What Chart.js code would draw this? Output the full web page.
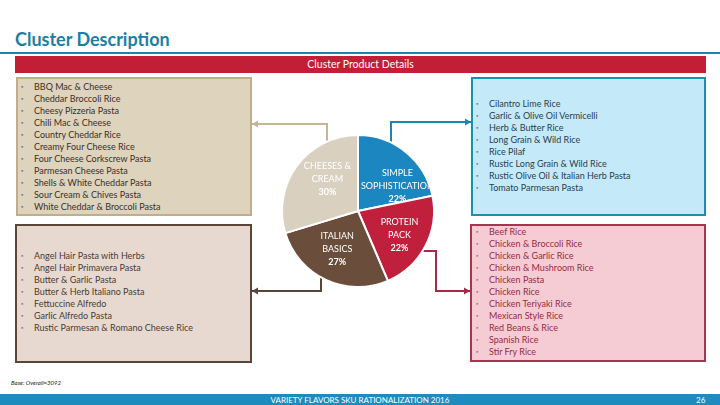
<!DOCTYPE html>
<html>
<head>
<meta charset="utf-8">
<script src="https://cdn.jsdelivr.net/npm/chart.js@4.4.1/dist/chart.umd.min.js"></script>
<style>
  html, body { margin: 0; padding: 0; background: #fff; }
  #slide { position: relative; width: 720px; height: 405px; overflow: hidden; font-family: Lato, "Open Sans", sans-serif; }
  #slide > * { position: absolute; }
  #title { left: 15px; top: 28px; font-size: 18px; font-weight: bold; color: #1b7fa3; }
  #rule { left: 0; top: 52px; width: 720px; height: 2px; background: #1b84a8; }
  #header { left: 15px; top: 56px; width: 691px; height: 17px; background: #c21e36; color: #fff;
            font-size: 10.5px; line-height: 17px; text-align: center; }
  .box { box-sizing: border-box; border: 2px solid; }
  .list { margin: 0; padding: 0; list-style: none; font-size: 9px; line-height: 12px; white-space: nowrap; }
  .list li { position: relative; padding-left: 13px; }
  .list li::before { content: "\25AA"; position: absolute; left: 0; font-size: 6px; opacity: 0.6; }
  #base { left: 11px; top: 379px; font-size: 6px; font-style: italic; color: #222; }
  #footer { left: 0; top: 394px; width: 720px; height: 11px; background: #1e8bbd; color: #fff; font-size: 8px; line-height: 12px; }
  #footer span { position: absolute; }
  canvas { position: absolute; left: 0; top: 0; }
</style>
</head>
<body>
<div id="slide">
  <div id="title">Cluster Description</div>
  <div id="rule"></div>
  <div id="header">Cluster Product Details</div>

  <div class="box" style="left:16px;top:77px;width:236px;height:139px;background:#ded3bd;border-color:#bfae8c"></div>
  <div class="box" style="left:15px;top:224px;width:237px;height:139px;background:#e7d9d0;border-color:#5a4638"></div>
  <div class="box" style="left:471px;top:77px;width:235px;height:139px;background:#c4eafa;border-color:#1d8db5"></div>
  <div class="box" style="left:470px;top:224px;width:236px;height:138px;background:#f6ccd4;border-color:#a53550"></div>

  <ul class="list" id="listCheeses" style="left:21px;top:81px;color:#3b3026"></ul>
  <ul class="list" id="listItalian" style="left:21px;top:250px;color:#4b3b30"></ul>
  <ul class="list" id="listSimple" style="left:476px;top:98px;color:#2a3d4d"></ul>
  <ul class="list" id="listProtein" style="left:476px;top:226px;color:#9b2a3f"></ul>

  <div id="base">Base: Overall=3092</div>
  <div id="footer">
    <span style="left:0;width:720px;text-align:center">VARIETY FLAVORS SKU RATIONALIZATION 2016</span>
    <span style="left:696px">26</span>
  </div>

  <canvas id="pie" width="720" height="405"></canvas>
</div>

<script>
// Clusters, clockwise from 12 o'clock
const clusters = [['SIMPLE', 'SOPHISTICATION'], ['PROTEIN', 'PACK'], ['ITALIAN', 'BASICS'], ['CHEESES &', 'CREAM']]
const shares = [22, 22, 27, 30]
const sliceColors = ['#1b86bf', '#c0203b', '#6a4e3b', '#dad0c0']

// Products in each cluster
const cheesesItems = ['BBQ Mac & Cheese', 'Cheddar Broccoli Rice', 'Cheesy Pizzeria Pasta', 'Chili Mac & Cheese',
  'Country Cheddar Rice', 'Creamy Four Cheese Rice', 'Four Cheese Corkscrew Pasta', 'Parmesan Cheese Pasta',
  'Shells & White Cheddar Pasta', 'Sour Cream & Chives Pasta', 'White Cheddar & Broccoli Pasta']
const italianItems = ['Angel Hair Pasta with Herbs', 'Angel Hair Primavera Pasta', 'Butter & Garlic Pasta',
  'Butter & Herb Italiano Pasta', 'Fettuccine Alfredo', 'Garlic Alfredo Pasta', 'Rustic Parmesan & Romano Cheese Rice']
const simpleItems = ['Cilantro Lime Rice', 'Garlic & Olive Oil Vermicelli', 'Herb & Butter Rice', 'Long Grain & Wild Rice',
  'Rice Pilaf', 'Rustic Long Grain & Wild Rice', 'Rustic Olive Oil & Italian Herb Pasta', 'Tomato Parmesan Pasta']
const proteinItems = ['Beef Rice', 'Chicken & Broccoli Rice', 'Chicken & Garlic Rice', 'Chicken & Mushroom Rice',
  'Chicken Pasta', 'Chicken Rice', 'Chicken Teriyaki Rice', 'Mexican Style Rice', 'Red Beans & Rice',
  'Spanish Rice', 'Stir Fry Rice']

function fillList(id, items) {
  const ul = document.getElementById(id)
  items.forEach(t => {
    const li = document.createElement('li')
    li.textContent = t
    ul.appendChild(li)
  })
}
fillList('listCheeses', cheesesItems)
fillList('listItalian', italianItems)
fillList('listSimple', simpleItems)
fillList('listProtein', proteinItems)

// label placement inside each slice: extra turn (deg) and radius fraction
const labelPlace = [{ turn: 19, r: 0.61 }, { turn: 3, r: 0.635 }, { turn: 3.4, r: 0.575 }, { turn: 9.4, r: 0.58 }]

// elbow connectors from the pie to the boxes
const connectors = [
  { color: '#1a87b0', pts: [[391, 160], [391, 122], [471, 122]] },
  { color: '#a52a45', pts: [[410, 251], [436, 251], [436, 291], [470, 291]] },
  { color: '#5b4535', pts: [[321, 260], [321, 291], [252, 291]] },
  { color: '#c4b597', pts: [[327, 160], [327, 124], [252, 124]] }
]

const connectorPlugin = {
  id: 'connectors',
  beforeDatasetsDraw(chart) {
    const ctx = chart.ctx
    ctx.save()
    ctx.lineWidth = 2
    connectors.forEach(c => {
      ctx.strokeStyle = c.color
      ctx.fillStyle = c.color
      ctx.beginPath()
      c.pts.forEach((p, i) => i ? ctx.lineTo(p[0], p[1]) : ctx.moveTo(p[0], p[1]))
      ctx.stroke()
      const a = c.pts[c.pts.length - 2], b = c.pts[c.pts.length - 1]
      const dir = Math.sign(b[0] - a[0])
      ctx.beginPath()
      ctx.moveTo(b[0], b[1])
      ctx.lineTo(b[0] - dir * 6, b[1] - 3.5)
      ctx.lineTo(b[0] - dir * 6, b[1] + 3.5)
      ctx.closePath()
      ctx.fill()
    })
    ctx.restore()
  }
}

const labelPlugin = {
  id: 'sliceLabels',
  afterDatasetsDraw(chart) {
    const ctx = chart.ctx
    const arcs = chart.getDatasetMeta(0).data
    ctx.save()
    const a0 = arcs[0]
    ctx.beginPath()
    ctx.arc(a0.x, a0.y, a0.outerRadius, 0, Math.PI * 2)
    ctx.clip()
    ctx.fillStyle = '#fff'
    ctx.textAlign = 'center'
    ctx.textBaseline = 'middle'
    arcs.forEach((arc, i) => {
      const mid = (arc.startAngle + arc.endAngle) / 2 + labelPlace[i].turn * Math.PI / 180
      const r = arc.outerRadius * labelPlace[i].r
      const x = arc.x + Math.cos(mid) * r
      const y = arc.y + Math.sin(mid) * r
      const lines = clusters[i]
      ctx.font = '9px Lato, sans-serif'
      ctx.fillText(lines[0], x, y - 13)
      ctx.fillText(lines[1], x, y)
      ctx.font = 'bold 9px Lato, sans-serif'
      ctx.fillText(shares[i] + '%', x, y + 13)
    })
    ctx.restore()
  }
}

new Chart(document.getElementById('pie'), {
  type: 'pie',
  data: {
    labels: clusters.map(c => c.join(' ')),
    datasets: [{
      data: shares,
      backgroundColor: sliceColors,
      borderColor: '#ffffff',
      borderWidth: 2
    }]
  },
  options: {
    responsive: false,
    animation: false,
    layout: { padding: { left: 281, right: 285, top: 134, bottom: 117 } },
    plugins: { legend: { display: false }, tooltip: { enabled: false } }
  },
  plugins: [connectorPlugin, labelPlugin]
})
</script>
</body>
</html>
